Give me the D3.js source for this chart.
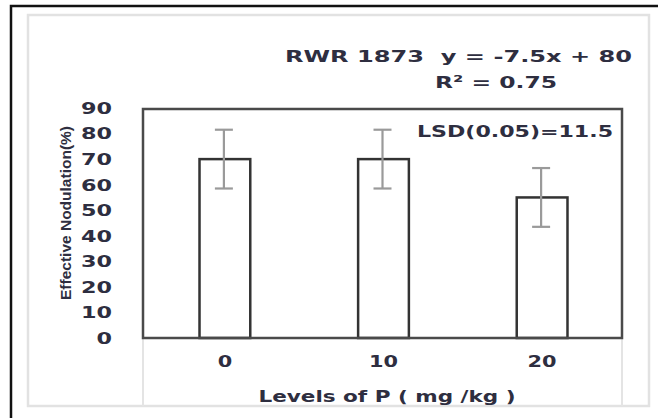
<!DOCTYPE html>
<html>
<head>
<meta charset="utf-8">
<script src="https://cdn.jsdelivr.net/npm/d3@7"></script>
<style>
  body { margin: 0; background: #fff; }
  svg { display: block; }
  .lbl { font-family: "DejaVu Sans", "Open Sans", sans-serif; font-weight: bold; fill: #2e2e40; }
</style>
</head>
<body>
<svg id="chart" width="658" height="418"></svg>
<script>
// data
var levels = ["0", "10", "20"];
var nodulation = [70, 70, 55];
var errSize = [11.5, 11.5, 11.5];
var yTicks = [0, 10, 20, 30, 40, 50, 60, 70, 80, 90];

var svg = d3.select("#chart");

// plot box
var plot = { left: 143, top: 109, right: 622, bottom: 338 };

var x = d3.scaleBand()
    .domain(levels)
    .range([plot.left, plot.right])
    .paddingInner(0.68)
    .paddingOuter(0.35);

var y = d3.scaleLinear()
    .domain([0, 90])
    .range([plot.bottom, plot.top - 1]);

// the source text is wide, so stretch it to the measured width
function fit(sel, w) {
    sel.attr("textLength", w).attr("lengthAdjust", "spacingAndGlyphs");
}

// outer black frame (right/bottom cut off in the source)
svg.append("path")
    .attr("d", "M11,418 V6 H658")
    .attr("fill", "none")
    .attr("stroke", "#111")
    .attr("stroke-width", 2.5);

// light grey chart area
svg.append("rect")
    .attr("x", 28).attr("y", 15)
    .attr("width", 621).attr("height", 391)
    .attr("fill", "#fff")
    .attr("stroke", "#e2e2e2")
    .attr("stroke-width", 2.5);

// grey lines under the plot (category table)
[plot.left, plot.right].forEach(function(px) {
    svg.append("line")
        .attr("x1", px).attr("x2", px)
        .attr("y1", plot.bottom).attr("y2", 406)
        .attr("stroke", "#e4e4e4")
        .attr("stroke-width", 2);
});

// bars
svg.append("g").selectAll("rect")
    .data(nodulation)
    .join("rect")
        .attr("x", function(d, i) { return x(levels[i]) + 1; })
        .attr("y", function(d) { return y(d); })
        .attr("width", x.bandwidth())
        .attr("height", function(d) { return y(0) - y(d); })
        .attr("fill", "#fff")
        .attr("stroke", "#333")
        .attr("stroke-width", 2.5);

// plot frame
svg.append("rect")
    .attr("x", plot.left).attr("y", plot.top)
    .attr("width", plot.right - plot.left)
    .attr("height", plot.bottom - plot.top)
    .attr("fill", "none")
    .attr("stroke", "#4a4a4a")
    .attr("stroke-width", 2.5);

// error bars
var eb = svg.append("g")
    .attr("stroke", "#9a9a9a")
    .attr("stroke-width", 2.2);
nodulation.forEach(function(d, i) {
    var cx = x(levels[i]) + x.bandwidth() / 2;
    var hi = y(d + errSize[i]), lo = y(d - errSize[i]);
    eb.append("line").attr("x1", cx).attr("x2", cx).attr("y1", hi).attr("y2", lo);
    eb.append("line").attr("x1", cx - 9).attr("x2", cx + 9).attr("y1", hi).attr("y2", hi);
    eb.append("line").attr("x1", cx - 9).attr("x2", cx + 9).attr("y1", lo).attr("y2", lo);
});

// y axis labels
var yAxis = d3.axisLeft(y).tickValues(yTicks).tickSize(0).tickPadding(0);
var gy = svg.append("g")
    .attr("transform", "translate(112,0)")
    .call(yAxis);
gy.select(".domain").remove();
gy.selectAll("text")
    .attr("class", "lbl")
    .attr("dy", "0.36em")
    .style("font-size", "15px")
    .each(function(d) { fit(d3.select(this), String(d).length * 15.5); });

// x axis labels
var xAxis = d3.axisBottom(x).tickSize(0).tickPadding(0);
var gx = svg.append("g")
    .attr("transform", "translate(0,362)")
    .call(xAxis);
gx.selectAll("text").attr("x", 1);
gx.select(".domain").remove();
gx.selectAll("text")
    .attr("class", "lbl")
    .attr("dy", "0.36em")
    .style("font-size", "15px")
    .each(function(d) { fit(d3.select(this), d.length * 14.5); });

// axis titles
svg.append("text")
    .attr("class", "lbl")
    .attr("x", 387).attr("y", 402)
    .attr("text-anchor", "middle")
    .style("font-size", "16px")
    .text("Levels of P ( mg /kg )")
    .call(fit, 257);

svg.append("text")
    .attr("transform", "translate(71,213) rotate(-90)")
    .attr("text-anchor", "middle")
    .style("font-family", "'Liberation Sans Narrow', 'Liberation Sans', sans-serif")
    .style("font-size", "15px")
    .style("font-weight", "bold")
    .style("fill", "#2e2e40")
    .text("Effective Nodulation(%)")
    .call(fit, 174);

// equation and stats
svg.append("text")
    .attr("class", "lbl")
    .attr("x", 285).attr("y", 62)
    .style("font-size", "16.5px")
    .attr("xml:space", "preserve")
    .text("RWR 1873  y = -7.5x + 80")
    .call(fit, 347);

svg.append("text")
    .attr("class", "lbl")
    .attr("x", 435).attr("y", 88)
    .style("font-size", "16.5px")
    .text("R² = 0.75")
    .call(fit, 122);

svg.append("text")
    .attr("class", "lbl")
    .attr("x", 417).attr("y", 137)
    .style("font-size", "16px")
    .text("LSD(0.05)=11.5")
    .call(fit, 196);
</script>
</body>
</html>
